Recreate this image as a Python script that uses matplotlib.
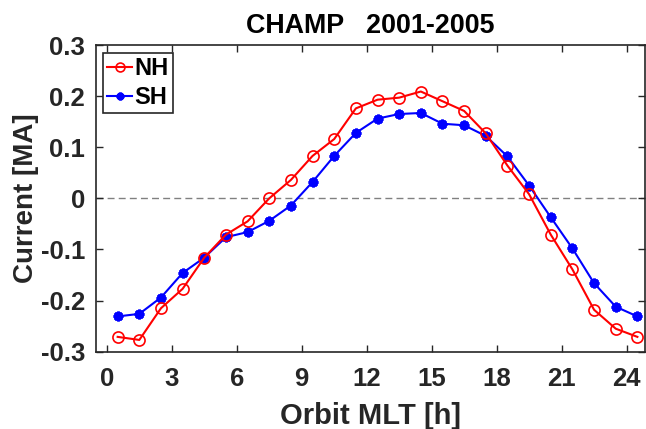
import numpy as np
import matplotlib.pyplot as plt

plt.rcParams['font.family'] = ['Liberation Sans', 'DejaVu Sans']
plt.rcParams['font.weight'] = 'bold'
plt.rcParams['axes.unicode_minus'] = False

# 轨道MLT (h), 末点为首点的周期重复
mlt = [0.5, 1.5, 2.5, 3.5, 4.5, 5.5, 6.5, 7.5, 8.5, 9.5, 10.5, 11.5, 12.5,
       13.5, 14.5, 15.5, 16.5, 17.5, 18.5, 19.5, 20.5, 21.5, 22.5, 23.5, 24.5]
nh = [-0.271, -0.277, -0.215, -0.177, -0.116, -0.071, -0.045, 0.000, 0.036,
      0.083, 0.116, 0.176, 0.193, 0.197, 0.209, 0.190, 0.171, 0.127, 0.064,
      0.008, -0.071, -0.139, -0.218, -0.255, -0.271]
sh = [-0.231, -0.226, -0.194, -0.146, -0.116, -0.076, -0.066, -0.044, -0.014,
      0.032, 0.083, 0.128, 0.156, 0.165, 0.167, 0.146, 0.143, 0.122, 0.082,
      0.025, -0.037, -0.098, -0.166, -0.212, -0.231]

xticks = [0, 3, 6, 9, 12, 15, 18, 21, 24]
yticks = [-0.3, -0.2, -0.1, 0, 0.1, 0.2, 0.3]
ytick_labels = ['-0.3', '-0.2', '-0.1', '0', '0.1', '0.2', '0.3']

fig = plt.figure(figsize=(6.46, 4.29), dpi=100)
ax = fig.add_axes([0.1486, 0.1802, 0.8498, 0.7149])

ax.axhline(0, color='#808080', linestyle='--', linewidth=1, dashes=(5, 3), zorder=1)
ax.plot(mlt, nh, color='#FF0000', linewidth=1.5, marker='o', markersize=8,
        markerfacecolor='none', markeredgewidth=1.2, label='NH', zorder=3)
ax.plot(mlt, sh, color='#0000FF', linewidth=1.5, marker=(8, 2, 0), markersize=7,
        markeredgewidth=2, label='SH', zorder=2)

ax.set_xlim(-0.5, 24.85)
ax.set_ylim(-0.3, 0.3)
ax.set_xticks(xticks)
ax.set_yticks(yticks)
ax.set_yticklabels(ytick_labels)

ax.tick_params(direction='in', top=True, right=True, length=5, width=1,
               labelsize=18.5, colors='#262626', labelcolor='#262626')
ax.tick_params(axis='x', pad=11)
ax.tick_params(axis='y', pad=8)
for s in ax.spines.values():
    s.set_linewidth(1.2)
    s.set_color('#262626')

ax.set_title('CHAMP   2001-2005', fontsize=19.4, fontweight='bold', pad=9)
ax.set_xlabel('Orbit MLT [h]', fontsize=21, fontweight='bold', color='#262626')
ax.set_ylabel('Current [MA]', fontsize=20, fontweight='bold', color='#262626')
ax.xaxis.set_label_coords(0.5, -0.165)
ax.yaxis.set_label_coords(-0.104, 0.5)

leg = ax.legend(loc='upper left', bbox_to_anchor=(0.0128, 0.974), borderaxespad=0,
                fontsize=17, handlelength=1.05, handletextpad=0.1, borderpad=0.18,
                labelspacing=0.25, fancybox=False, framealpha=1, markerscale=0.8)
leg.get_frame().set_edgecolor('#262626')
leg.get_frame().set_linewidth(1.2)

plt.savefig('out.png', dpi=100)
